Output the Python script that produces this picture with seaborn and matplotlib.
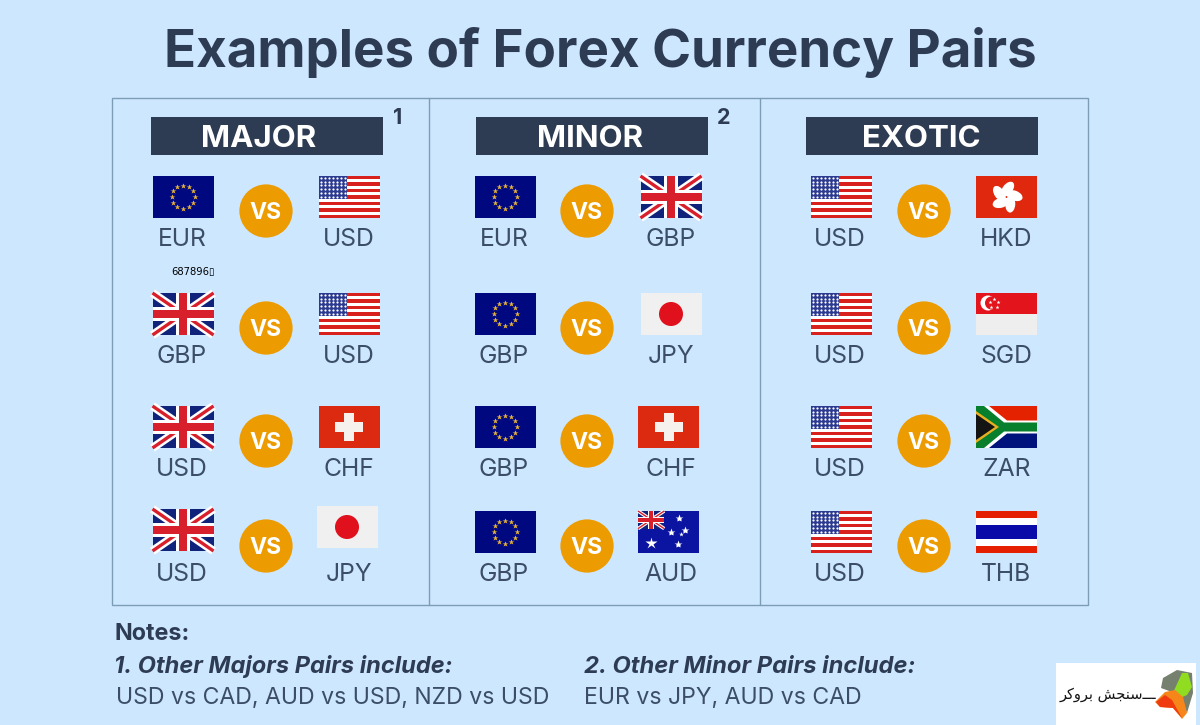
import numpy as np
import pandas as pd
import matplotlib
matplotlib.use('Agg')
import matplotlib.pyplot as plt
import seaborn as sns
from matplotlib.patches import Rectangle, Polygon, Circle, Ellipse

# Chart content
TITLE = 'Examples of Forex Currency Pairs'
PANELS = ['MAJOR', 'MINOR', 'EXOTIC']

MAJOR_BASE = ['EUR', 'GBP', 'USD', 'USD']
MAJOR_QUOTE = ['USD', 'USD', 'CHF', 'JPY']
MAJOR_BASE_FLAGS = ['EU', 'GB', 'GB', 'GB']
MAJOR_QUOTE_FLAGS = ['US', 'US', 'CH', 'JP']

MINOR_BASE = ['EUR', 'GBP', 'GBP', 'GBP']
MINOR_QUOTE = ['GBP', 'JPY', 'CHF', 'AUD']
MINOR_BASE_FLAGS = ['EU', 'EU', 'EU', 'EU']
MINOR_QUOTE_FLAGS = ['GB', 'JP', 'CH', 'AU']

EXOTIC_BASE = ['USD', 'USD', 'USD', 'USD']
EXOTIC_QUOTE = ['HKD', 'SGD', 'ZAR', 'THB']
EXOTIC_BASE_FLAGS = ['US', 'US', 'US', 'US']
EXOTIC_QUOTE_FLAGS = ['HK', 'SG', 'ZA', 'TH']

NOTE_HEAD = 'Notes:'
NOTE_1_HEAD = '1. Other Majors Pairs include:'
NOTE_1_TEXT = 'USD vs CAD, AUD vs USD, NZD vs USD'
NOTE_2_HEAD = '2. Other Minor Pairs include:'
NOTE_2_TEXT = 'EUR vs JPY, AUD vs CAD'

# Layout, in image pixels
BG = '#cde7ff'
NAVY = '#2d3b53'
LABEL = '#3b4d67'
ORANGE = '#ec9c00'
LINE = '#7c9db5'
FONT = 'Inter'

HEADER_X = [151, 476, 806]
HEADER_TEXT_X = [258.5, 590, 921]
BASE_X = [183, 505, 841]
QUOTE_X = [349, 671, 1006.5]
VS_X = [266, 587, 924]
FLAG_TOPS = [[176, 293, 406, 509], [176, 293, 406, 511], [176, 293, 406, 511]]
VS_Y = [211, 328, 441, 546]
LABEL_Y = [238, 355, 468, 573]
FLAG_W, FLAG_H = 61, 42
QUOTE_NUDGE = {'AU': -2.5, 'CH_MINOR': -2.5}


def rect(ax, x, y, w, h, color, z=3):
    ax.add_patch(Rectangle((x, y), w, h, fc=color, ec='none', zorder=z))


def star_dots(ax, xs, ys, color, size, marker='*', z=5):
    ax.plot(xs, ys, ls='none', marker=marker, ms=size, mfc=color, mec='none', zorder=z)


def union_jack(ax, x, y, w, h, z=3):
    clip = Rectangle((x, y), w, h, transform=ax.transData)
    rect(ax, x, y, w, h, '#10237a', z)
    k = h / 42
    for (x0, y0, x1, y1) in [(x, y, x + w, y + h), (x, y + h, x + w, y)]:
        ax.plot([x0, x1], [y0, y1], color='white', lw=6.0 * k, zorder=z + 0.1,
                solid_capstyle='butt', clip_path=clip)
        ax.plot([x0, x1], [y0, y1], color='#d8202c', lw=2.4 * k, zorder=z + 0.2,
                solid_capstyle='butt', clip_path=clip)
    rect(ax, x + w / 2 - 7 * k, y, 14 * k, h, 'white', z + 0.3)
    rect(ax, x, y + h / 2 - 7 * k, w, 14 * k, 'white', z + 0.3)
    rect(ax, x + w / 2 - 4 * k, y, 8 * k, h, '#d8202c', z + 0.4)
    rect(ax, x, y + h / 2 - 4 * k, w, 8 * k, '#d8202c', z + 0.4)


def flag_eu(ax, x, y, w, h):
    rect(ax, x, y, w, h, '#00087f')
    ang = np.deg2rad(np.arange(12) * 30)
    star_dots(ax, x + w / 2 + 11.5 * np.cos(ang), y + h / 2 + 11.5 * np.sin(ang), '#e6b23c', 4)


def flag_us(ax, x, y, w, h):
    rect(ax, x, y, w, h, 'white')
    sh = h / 13
    for i in range(0, 13, 2):
        rect(ax, x, y + i * sh, w, sh, '#d8201c', 3.1)
    rect(ax, x, y, w * 0.475, sh * 7, '#2b3a8f', 3.2)
    gx, gy = np.meshgrid(np.linspace(x + 2, x + w * 0.475 - 2, 7),
                         np.linspace(y + 2, y + sh * 7 - 2, 6))
    star_dots(ax, gx.ravel(), gy.ravel(), 'white', 1.6, marker='o')


def flag_gb(ax, x, y, w, h):
    union_jack(ax, x, y, w, h)


def flag_jp(ax, x, y, w, h):
    rect(ax, x, y, w, h, '#f0f0f0')
    ax.add_patch(Circle((x + w / 2, y + h / 2), 12, fc='#e0101c', ec='none', zorder=4))


def flag_ch(ax, x, y, w, h):
    rect(ax, x, y, w, h, '#dc2a10')
    cx, cy = x + w / 2, y + h / 2
    rect(ax, cx - 14, cy - 5, 28, 10, '#f7f1ee', 4)
    rect(ax, cx - 5, cy - 14, 10, 28, '#f7f1ee', 4)


def flag_au(ax, x, y, w, h):
    rect(ax, x, y, w, h, '#0a14a0')
    union_jack(ax, x, y, w * 0.43, h * 0.42, 3.5)
    sx = [x + 41, x + 33, x + 47, x + 43, x + 13, x + 40]
    sy = [y + 7, y + 21, y + 19, y + 23, y + 32, y + 33]
    for a, b, s in zip(sx, sy, [6, 6, 6, 3.5, 9, 6]):
        star_dots(ax, [a], [b], 'white', s)


def flag_hk(ax, x, y, w, h):
    rect(ax, x, y, w, h, '#e0280e')
    cx, cy = x + w / 2, y + h / 2
    for i in range(5):
        a = np.deg2rad(-90 + i * 72 + 8)
        ax.add_patch(Ellipse((cx + 8 * np.cos(a), cy + 8 * np.sin(a)), 17, 10,
                             angle=np.rad2deg(a) + 30, fc='white', ec='none', zorder=4))


def flag_sg(ax, x, y, w, h):
    rect(ax, x, y, w, h / 2, '#e4141c')
    rect(ax, x, y + h / 2, w, h / 2, '#eeeeee')
    ax.add_patch(Circle((x + 12, y + 10), 7.5, fc='white', ec='none', zorder=4))
    ax.add_patch(Circle((x + 15.5, y + 10), 6.5, fc='#e4141c', ec='none', zorder=4.1))
    ang = np.deg2rad(-90 + np.arange(5) * 72)
    star_dots(ax, x + 18 + 4.5 * np.cos(ang), y + 10 + 4.5 * np.sin(ang), 'white', 3)


def flag_za(ax, x, y, w, h):
    rect(ax, x, y, w, h / 2, '#e42200')
    rect(ax, x, y + h / 2, w, h / 2, '#00127c')
    mid = y + h / 2
    ax.add_patch(Polygon([[x, y], [x + 13, y], [x + 31, mid - 6.5], [x + w, mid - 6.5],
                          [x + w, mid + 6.5], [x + 31, mid + 6.5], [x + 13, y + h], [x, y + h]],
                         fc='white', ec='none', zorder=3.1))
    ax.add_patch(Polygon([[x, y], [x + 8, y], [x + 28, mid - 4.5], [x + w, mid - 4.5],
                          [x + w, mid + 4.5], [x + 28, mid + 4.5], [x + 8, y + h], [x, y + h]],
                         fc='#087f2c', ec='none', zorder=3.2))
    ax.add_patch(Polygon([[x, y + 5], [x + 23, mid], [x, y + h - 5]],
                         fc='#e8b020', ec='none', zorder=3.3))
    ax.add_patch(Polygon([[x, y + 8], [x + 19, mid], [x, y + h - 8]],
                         fc='#141414', ec='none', zorder=3.4))


def flag_th(ax, x, y, w, h):
    rect(ax, x, y, w, h, 'white')
    rect(ax, x, y, w, h / 6, '#e42000', 3.1)
    rect(ax, x, y + 5 * h / 6, w, h / 6, '#e42000', 3.1)
    rect(ax, x, y + h / 3, w, h / 3, '#0a0aa8', 3.1)


FLAGS = {'EU': flag_eu, 'US': flag_us, 'GB': flag_gb, 'JP': flag_jp, 'CH': flag_ch,
         'AU': flag_au, 'HK': flag_hk, 'SG': flag_sg, 'ZA': flag_za, 'TH': flag_th}

sns.set_theme(style='white')
plt.rcParams['font.family'] = [FONT, 'DejaVu Sans']

fig = plt.figure(figsize=(12, 7.25), dpi=100, facecolor=BG)
ax = fig.add_axes([0, 0, 1, 1])
ax.set_xlim(0, 1200)
ax.set_ylim(725, 0)
ax.set_facecolor(BG)
ax.axis('off')

ax.text(600, 52, TITLE, ha='center', va='center', fontsize=38, fontweight='bold', color=NAVY)

# panel frame
ax.add_patch(Rectangle((112, 98), 976, 507, fc='none', ec=LINE, lw=1.0, zorder=2))
for dx in [428.5, 760]:
    ax.plot([dx, dx], [98, 605], color=LINE, lw=1.0, zorder=2)

for hx, tx, name in zip(HEADER_X, HEADER_TEXT_X, PANELS):
    rect(ax, hx, 117, 232, 38, NAVY, 2)
    ax.text(tx, 138.5, name, ha='center', va='center', fontsize=22.5,
            fontweight='bold', color='white', zorder=3)

ax.text(398, 118, '1', ha='center', va='center', fontsize=15.5, fontweight='bold', color=NAVY)
ax.text(724, 118, '2', ha='center', va='center', fontsize=15.5, fontweight='bold', color=NAVY)
ax.text(171, 272, '687896\u25af', ha='left', va='center', fontsize=7.2, color='black',
        family=['DejaVu Sans'])

bases = [MAJOR_BASE, MINOR_BASE, EXOTIC_BASE]
quotes = [MAJOR_QUOTE, MINOR_QUOTE, EXOTIC_QUOTE]
base_flags = [MAJOR_BASE_FLAGS, MINOR_BASE_FLAGS, EXOTIC_BASE_FLAGS]
quote_flags = [MAJOR_QUOTE_FLAGS, MINOR_QUOTE_FLAGS, EXOTIC_QUOTE_FLAGS]

for p in range(3):
    for r in range(4):
        top = FLAG_TOPS[p][r]
        FLAGS[base_flags[p][r]](ax, BASE_X[p] - FLAG_W / 2, top, FLAG_W, FLAG_H)
        code = quote_flags[p][r]
        qx = QUOTE_X[p] - FLAG_W / 2
        qtop = top
        if code == 'JP' and p == 0:
            qx, qtop = qx - 2, top - 3
        if code == 'AU':
            qx += QUOTE_NUDGE['AU']
        if code == 'CH' and p == 1:
            qx += QUOTE_NUDGE['CH_MINOR']
        FLAGS[code](ax, qx, qtop, FLAG_W, FLAG_H)
        ax.text(BASE_X[p] - 1, LABEL_Y[r] + 1.5, bases[p][r], ha='center', va='center',
                fontsize=17.8, color=LABEL)
        ax.text(QUOTE_X[p], LABEL_Y[r] + 1.5, quotes[p][r], ha='center', va='center',
                fontsize=17.8, color=LABEL)

# VS badges
vs = pd.DataFrame([(x, y) for x in VS_X for y in VS_Y], columns=['x', 'y'])
sns.scatterplot(data=vs, x='x', y='y', s=1470, color=ORANGE, edgecolor='none', ax=ax,
                legend=False, zorder=4)
for x, y in zip(vs['x'], vs['y']):
    ax.text(x, y + 1.5, 'VS', ha='center', va='center', fontsize=16.5, fontweight='bold',
            color='white', zorder=5)
ax.set_xlim(0, 1200)
ax.set_ylim(725, 0)
ax.axis('off')

# notes
ax.text(114, 634, NOTE_HEAD, ha='left', va='center', fontsize=16.8, fontweight='bold', color=NAVY)
ax.text(114, 667, NOTE_1_HEAD, ha='left', va='center', fontsize=17, fontweight='bold',
        style='italic', color=NAVY)
ax.text(116, 698, NOTE_1_TEXT, ha='left', va='center', fontsize=16.6, color=LABEL)
ax.text(584, 667, NOTE_2_HEAD, ha='left', va='center', fontsize=17.1, fontweight='bold',
        style='italic', color=NAVY)
ax.text(584, 698, NOTE_2_TEXT, ha='left', va='center', fontsize=16.6, color=LABEL)

# logo box
rect(ax, 1056, 663, 140, 62, 'white', 2)
ax.text(1156, 694, '\ufeae\ufb90\ufeed\ufeae\ufe91 \ufeb6\ufea0\ufee8\ufeb3\u0640\u0640\u0640', ha='right', va='center',
        fontsize=10.5, color='#151515', family=['DejaVu Sans'], zorder=3)
ax.add_patch(Polygon([[1161, 688], [1163, 678], [1177, 670], [1192, 673], [1193, 693],
                      [1187, 713], [1180, 695]], fc='#76806f', ec='none', zorder=3))
ax.add_patch(Polygon([[1172, 695], [1182, 673], [1188, 673], [1192, 687], [1187, 695],
                      [1180, 698]], fc='#8fdc20', ec='none', zorder=3.1))
ax.add_patch(Polygon([[1155, 702], [1165, 692], [1175, 690], [1183, 697], [1187, 713],
                      [1182, 719], [1173, 708], [1160, 707]], fc='#f6861a', ec='none', zorder=3.2))
ax.add_patch(Polygon([[1156, 702], [1165, 695], [1172, 700], [1182, 718], [1173, 708],
                      [1160, 707]], fc='#f03a10', ec='none', zorder=3.3))

fig.savefig('out.png', dpi=100, facecolor=BG)
